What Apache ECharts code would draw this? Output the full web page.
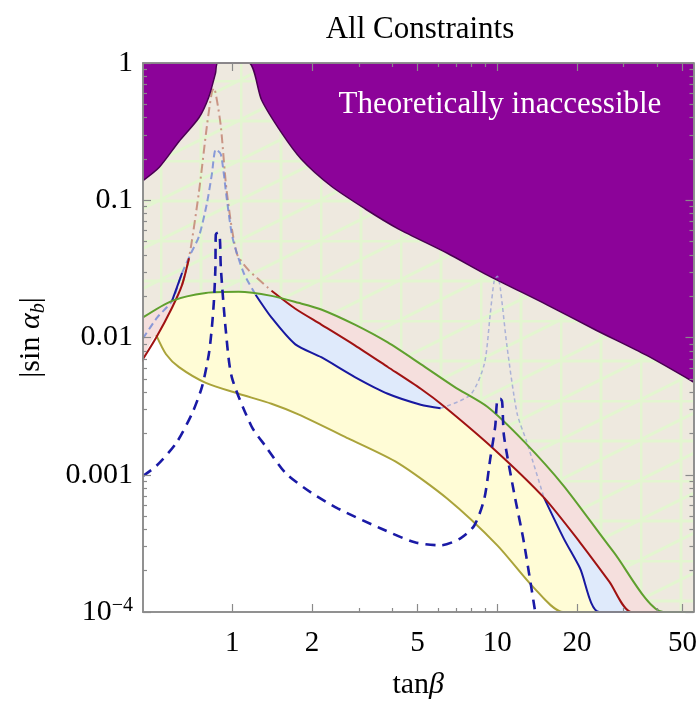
<!DOCTYPE html>
<html><head><meta charset="utf-8">
<script src="https://cdn.jsdelivr.net/npm/echarts@6/dist/echarts.min.js"></script>
<style>html,body{margin:0;padding:0;background:#fff}#c{width:700px;height:705px}</style>
</head><body><div id="c"></div>
<script>
const X_MIN = 0.46, X_MAX = 55, Y_MIN = 1e-4, Y_MAX = 1;

const xTickValues = [1, 2, 5, 10, 20, 50];
const xTickLabels = ['1', '2', '5', '10', '20', '50'];
const xMinorTicks = [3, 4, 6, 7, 8, 9, 30, 40];
const yTickValues = [1e-4, 1e-3, 1e-2, 1e-1, 1];
const yTickLabels = ['10{sup|−4}', '0.001', '0.01', '0.1', '1'];

// Theoretically inaccessible boundary
const purpleX = [0.46, 0.530, 0.629, 0.748, 0.815, 0.864, 0.882, 1.152, 1.289, 1.532, 1.821, 2.358, 3.166, 4.21, 6.48, 9.17, 15.4, 23.7, 36.5, 55];
const purpleY = [0.139, 0.174, 0.268, 0.399, 0.566, 0.843, 1.0, 1.0, 0.538, 0.311, 0.199, 0.127, 0.0867, 0.0622, 0.0411, 0.0285, 0.0173, 0.01125, 0.00743, 0.00474];

// green constraint
const greenX = [0.46, 0.592, 0.794, 1.057, 1.405, 1.775, 2.165, 2.90, 3.86, 5.14, 6.89, 9.17, 12.6, 17.8, 27.5, 42.3];
const greenY = [0.0140, 0.0185, 0.0211, 0.0215, 0.0201, 0.0179, 0.0160, 0.0124, 0.0092, 0.0064, 0.00437, 0.00313, 0.00175, 0.00083, 0.000273, 0.0001];

// red constraint
const redX = [0.452, 0.516, 0.592, 0.646, 0.686, 0.748, 0.801, 0.837, 0.852, 0.874, 0.905, 0.953, 1.039, 1.152, 1.406, 1.729, 2.165, 2.90, 3.86, 5.14, 6.32, 9.74, 15.0, 20.5, 26.5, 32.1];
const redY = [0.00661, 0.0100, 0.01648, 0.02416, 0.0378, 0.1148, 0.344, 0.615, 0.657, 0.538, 0.344, 0.1148, 0.0411, 0.0310, 0.0219, 0.0162, 0.01243, 0.00877, 0.00610, 0.00423, 0.00313, 0.00153, 0.000681, 0.000322, 0.000166, 0.0001];

// blue solid constraint
const blueX = [0.46, 0.520, 0.592, 0.646, 0.698, 0.748, 0.801, 0.837, 0.866, 0.905, 0.953, 1.003, 1.104, 1.224, 1.406, 1.729, 2.165, 2.90, 3.86, 5.14, 6.11, 7.91, 8.93, 9.40, 9.73, 10.0, 10.26, 10.89, 11.88, 12.9, 15.0, 17.8, 20.5, 24.3];
const blueY = [0.00985, 0.01396, 0.0185, 0.0295, 0.0411, 0.0545, 0.0942, 0.155, 0.235, 0.216, 0.102, 0.0527, 0.0295, 0.0205, 0.01396, 0.00891, 0.00718, 0.00515, 0.00389, 0.00324, 0.00305, 0.00382, 0.0064, 0.01466, 0.0258, 0.0280, 0.0230, 0.00849, 0.00279, 0.00175, 0.000681, 0.000344, 0.000209, 0.0001];

// blue dashed curve
const dashX = [0.46, 0.516, 0.613, 0.704, 0.768, 0.815, 0.837, 0.852, 0.863, 0.866, 0.882, 0.897, 0.905, 0.944, 0.995, 1.182, 1.335, 1.586, 1.986, 2.507, 3.636, 4.88, 6.11, 7.26, 8.19, 8.93, 9.40, 9.82, 10.0, 10.26, 10.43, 10.6, 11.57, 12.6, 13.9];
const dashY = [0.00098, 0.001157, 0.001694, 0.002787, 0.004365, 0.00755, 0.01183, 0.0185, 0.0320, 0.0562, 0.0581, 0.0527, 0.0320, 0.01143, 0.00515, 0.002248, 0.001613, 0.001031, 0.000739, 0.000567, 0.000406, 0.000322, 0.000306, 0.000344, 0.000427, 0.000668, 0.0013, 0.00225, 0.00352, 0.00358, 0.0034, 0.00191, 0.000739, 0.000322, 0.0001];

// olive lower bound
const oliveX = [0.46, 0.516, 0.562, 0.629, 0.794, 1.057, 1.405, 1.775, 2.735, 4.21, 6.48, 10.0, 13.75, 17.7];
const oliveY = [0.0070, 0.0104, 0.00755, 0.00608, 0.00467, 0.00389, 0.00329, 0.00275, 0.00184, 0.00122, 0.000668, 0.000306, 0.000150, 0.0001];

const L = v => Math.log10(v);
const pts = (xs, ys) => xs.map((x, i) => [L(x), L(ys[i])]);
const withEnd = arr => arr.concat([[L(X_MAX), L(Y_MIN)]]);

const purple = pts(purpleX, purpleY);
const green = withEnd(pts(greenX, greenY));
const red = withEnd(pts(redX, redY));
const blue = withEnd(pts(blueX, blueY));
const dash = pts(dashX, dashY);
const olive = withEnd(pts(oliveX, oliveY));

function meshPattern() {
  const s = 80;
  const c = document.createElement('canvas'); c.width = s; c.height = s;
  const g = c.getContext('2d');
  g.fillStyle = '#eee9df'; g.fillRect(0, 0, s, s);
  g.strokeStyle = '#e3f6d0'; g.lineWidth = 3;
  g.beginPath();
  [1, 41].forEach(x => { g.moveTo(x, 0); g.lineTo(x, s); });
  [1, 41].forEach(y => { g.moveTo(0, y); g.lineTo(s, y); });
  [0, 40, 80, 120].forEach(cc => { g.moveTo(0, cc); g.lineTo(s, cc - 40); });
  g.stroke();
  return c;
}

const SERIF = 'Liberation Serif';
const GRAY = '#8a8a8a';
const SM = 0.25;

function fill(data, color, origin) {
  return { type: 'line', data, symbol: 'none', smooth: SM, silent: true,
    lineStyle: { width: 0, opacity: 0 }, areaStyle: { color, origin, opacity: 1 }, z: 1 };
}
function line(data, color, width, type, opacity, z) {
  return { type: 'line', data, symbol: 'none', smooth: SM, silent: true,
    lineStyle: { color, width, type: type || 'solid', opacity: opacity == null ? 1 : opacity, cap: 'butt' }, z: z || 3 };
}

const findIdx = (vals, v) => vals.findIndex(t => Math.abs(L(t) - v) < 1e-6);

function xAxisDef(pos, vals, len, labels) {
  const a = {
    type: 'value', position: pos, min: L(X_MIN), max: L(X_MAX), z: 10,
    axisLine: { show: true, onZero: false, lineStyle: { color: GRAY, width: 1.5 } },
    axisTick: { show: true, inside: true, length: len, customValues: vals.map(L), lineStyle: { color: GRAY, width: 1.2 } },
    axisLabel: { show: false }, splitLine: { show: false }
  };
  if (labels) {
    a.axisLabel = { show: true, customValues: xTickValues.map(L), margin: 17,
      fontFamily: SERIF, fontSize: 29, color: '#000',
      formatter: v => xTickLabels[findIdx(xTickValues, v)] };
    a.name = 'tan{i|β}';
    a.nameLocation = 'middle';
    a.nameGap = 58;
    a.nameTextStyle = { fontFamily: SERIF, fontSize: 30, color: '#000',
      rich: { i: { fontFamily: SERIF, fontSize: 30, fontStyle: 'italic', color: '#000' } } };
  }
  return a;
}
function yAxisDef(pos, vals, len, labels) {
  const a = {
    type: 'value', position: pos, min: L(Y_MIN), max: L(Y_MAX), z: 10,
    axisLine: { show: true, onZero: false, lineStyle: { color: GRAY, width: 1.5 } },
    axisTick: { show: true, inside: true, length: len, customValues: vals.map(L), lineStyle: { color: GRAY, width: 1.2 } },
    axisLabel: { show: false }, splitLine: { show: false }
  };
  if (labels) {
    a.axisLabel = { show: true, customValues: yTickValues.map(L), margin: 10,
      fontFamily: SERIF, fontSize: 30, color: '#000', lineHeight: 32,
      formatter: v => yTickLabels[findIdx(yTickValues, v)],
      rich: { sup: { fontFamily: SERIF, fontSize: 20, color: '#000', verticalAlign: 'top', lineHeight: 20 } } };
    a.name = '|sin {a|α}{b|b}|';
    a.nameLocation = 'middle';
    a.nameRotate = 90;
    a.nameGap = 94;
    a.nameTextStyle = { fontFamily: SERIF, fontSize: 30, color: '#000', lineHeight: 36,
      rich: {
        a: { fontFamily: SERIF, fontSize: 30, fontStyle: 'italic', color: '#000' },
        b: { fontFamily: SERIF, fontSize: 20, fontStyle: 'italic', color: '#000', verticalAlign: 'bottom', lineHeight: 22 }
      } };
  }
  return a;
}
const yMinor = [];
for (let e = -4; e < 0; e++) for (let m = 2; m <= 9; m++) yMinor.push(m * Math.pow(10, e));

const option = {
  animation: false,
  backgroundColor: '#fff',
  grid: { left: 143, right: 3, top: 63, bottom: 87, containLabel: false },
  xAxis: [
    xAxisDef('bottom', xTickValues, 8, true),
    xAxisDef('bottom', xMinorTicks, 4, false),
    xAxisDef('top', xTickValues, 8, false),
    xAxisDef('top', xMinorTicks, 4, false)
  ],
  yAxis: [
    yAxisDef('left', yTickValues, 8, true),
    yAxisDef('left', yMinor, 4, false),
    yAxisDef('right', yTickValues, 8, false),
    yAxisDef('right', yMinor, 4, false)
  ],
  series: [
    fill(blue, '#fffcd6', 'start'),
    fill(blue, '#dfeafb', 'end'),
    fill(red, '#f5dfdd', 'end'),
    fill(green, { image: meshPattern(), repeat: 'repeat' }, 'end'),
    fill(purple, '#8c0399', 'end'),
    fill(olive, '#ffffff', 'start'),
    // faded peak lines
    line(red.slice(3, 15), '#c0806e', 2, [9, 4, 2, 4], 0.8, 2),
    line(blue.slice(0, 14), '#6f86d6', 2, [7, 4], 0.8, 2),
    line(blue.slice(20, 31), '#9aa4d4', 1.5, [4, 3], 0.8, 2),
    // solid boundaries (olive < blue < red < green)
    line(olive.slice(1), '#aaa33a', 2, 'solid', 1, 3),
    line(blue.slice(2, 4), '#1818a0', 2, 'solid', 1, 4),
    line(blue.slice(13, 21), '#1818a0', 2, 'solid', 1, 4),
    line(blue.slice(30), '#1818a0', 2, 'solid', 1, 4),
    line(red.slice(0, 5), '#a01212', 2, 'solid', 1, 5),
    line(red.slice(14), '#a01212', 2, 'solid', 1, 5),
    line(green, '#5fa02e', 2, 'solid', 1, 6),
    line(purple, '#4a0052', 1.5, 'solid', 1, 6),
    line(dash, '#1a1aa6', 2.6, [10, 7], 1, 7)
  ],
  graphic: [
    { type: 'text', z: 100, style: { x: 420, y: 30, text: 'All Constraints', font: '31px "Liberation Serif"', fill: '#000', align: 'center', verticalAlign: 'middle' } },
    { type: 'text', z: 100, style: { x: 500, y: 105, text: 'Theoretically inaccessible', font: '31px "Liberation Serif"', fill: '#fff', align: 'center', verticalAlign: 'middle' } }
  ]
};
const chart = echarts.init(document.getElementById('c'), null, { renderer: 'canvas' });
chart.setOption(option);
</script>
</body></html>
